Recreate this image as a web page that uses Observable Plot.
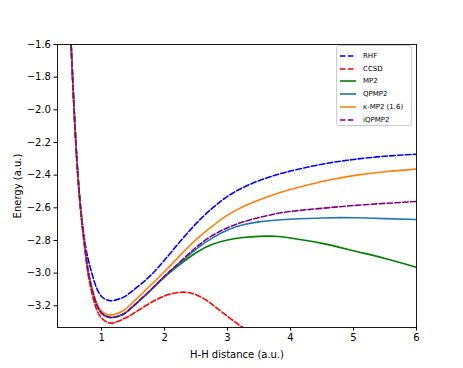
<!DOCTYPE html>
<html><head><meta charset="utf-8">
<script src="https://cdn.jsdelivr.net/npm/d3@7"></script>
<script src="https://cdn.jsdelivr.net/npm/@observablehq/plot@0.6"></script>
<style>
body{margin:0;background:#fff}
#wrap{position:relative;width:463px;height:368px;font-family:"DejaVu Sans",sans-serif}
#legend{position:absolute;left:336px;top:45px;width:76px;height:81px;box-sizing:border-box;border:1px solid #cccccc;border-radius:3px;background:rgba(255,255,255,0.85);font-size:7px;color:#000}
.row{position:absolute;left:0;height:10px;width:76px}
.row svg{position:absolute;left:3px;top:0}
.row span{position:absolute;left:26px;top:0;line-height:10px;white-space:nowrap}
</style>
</head><body><div id="wrap"></div>
<script>
// H-H distance grid (a.u.)
const xs = [0.5,0.55,0.6,0.65,0.7,0.75,0.8,0.9,1.0,1.1,1.2,1.35,1.5,1.75,2.0,2.25,2.5,2.75,3.0,3.25,3.5,3.75,4.0,4.5,5.0,5.5,6.0];
// energies (a.u.)
const rhf   = [-1.46,-1.89,-2.26,-2.53,-2.71,-2.845,-2.935,-3.07,-3.143,-3.166,-3.167,-3.147,-3.106,-3.025,-2.92,-2.805,-2.697,-2.605,-2.53,-2.475,-2.434,-2.401,-2.375,-2.333,-2.304,-2.284,-2.272];
const ccsd  = [-1.46,-1.89,-2.27,-2.545,-2.745,-2.905,-3.04,-3.20,-3.275,-3.303,-3.303,-3.28,-3.248,-3.188,-3.14,-3.117,-3.132,-3.19,-3.265,-3.335,-3.40,null,null,null,null,null,null];
const mp2   = [-1.46,-1.89,-2.26,-2.53,-2.725,-2.885,-3.015,-3.168,-3.245,-3.268,-3.27,-3.25,-3.204,-3.116,-3.025,-2.945,-2.875,-2.825,-2.797,-2.782,-2.775,-2.774,-2.785,-2.818,-2.863,-2.91,-2.964];
const qpmp2 = [-1.46,-1.89,-2.26,-2.53,-2.725,-2.885,-3.015,-3.168,-3.245,-3.268,-3.27,-3.25,-3.203,-3.115,-3.021,-2.937,-2.853,-2.787,-2.736,-2.704,-2.686,-2.676,-2.670,-2.662,-2.661,-2.666,-2.672];
const kmp2  = [-1.46,-1.89,-2.26,-2.53,-2.725,-2.885,-3.012,-3.165,-3.232,-3.254,-3.253,-3.229,-3.178,-3.085,-2.99,-2.89,-2.795,-2.715,-2.645,-2.592,-2.552,-2.517,-2.488,-2.439,-2.403,-2.379,-2.363];
const iqpmp2= [-1.46,-1.89,-2.26,-2.53,-2.725,-2.885,-3.015,-3.168,-3.245,-3.268,-3.27,-3.25,-3.203,-3.114,-3.018,-2.93,-2.842,-2.772,-2.722,-2.686,-2.659,-2.638,-2.622,-2.603,-2.586,-2.573,-2.561];
const xTicks = [1,2,3,4,5,6];
const yTicks = [-3.2,-3.0,-2.8,-2.6,-2.4,-2.2,-2.0,-1.8,-1.6];

const series = [
  {name:"RHF", html:"RHF", y:rhf, color:"#0000ff", dash:"5.5,2.4"},
  {name:"CCSD", html:"CCSD", y:ccsd, color:"#ff0000", dash:"5.5,2.4"},
  {name:"MP2", html:"MP2", y:mp2, color:"#008000", dash:null},
  {name:"QPMP2", html:"QPMP2", y:qpmp2, color:"#1f77b4", dash:null},
  {name:"k-MP2", html:"<i>κ</i>-MP2 (1.6)", y:kmp2, color:"#ff7f0e", dash:null},
  {name:"iQPMP2", html:"iQPMP2", y:iqpmp2, color:"#800080", dash:"5.5,2.4"}
];

const lines = series.map(s => {
  const data = xs.map((x,i) => ({x, y: s.y[i]})).filter(d => d.y !== null);
  return Plot.line(data, {x:"x", y:"y", stroke:s.color, strokeWidth:1.6, strokeDasharray:s.dash || undefined, curve:"natural", clip:true});
});

const chart = Plot.plot({
  width:463, height:368,
  marginLeft:57, marginRight:47, marginTop:44, marginBottom:41,
  style:{fontFamily:"DejaVu Sans", fontSize:"10px", color:"black", background:"white"},
  x:{domain:[0.3,6]},
  y:{domain:[-3.333,-1.6]},
  marks:[
    ...lines,
    Plot.frame({stroke:"black", strokeWidth:0.9}),
    Plot.axisX({ticks:xTicks, tickFormat:d=>String(d), tickSize:3.5, tickPadding:3, label:"H-H distance (a.u.)", labelAnchor:"center", labelOffset:30, labelArrow:"none"}),
    Plot.axisY({ticks:yTicks, tickFormat:d3.format(".1f"), tickSize:3.5, tickPadding:3, label:"Energy (a.u.)", labelAnchor:"center", labelOffset:44, labelArrow:"none"})
  ]
});
const wrap = document.getElementById("wrap");
wrap.appendChild(chart);

// legend
const leg = document.createElement("div");
leg.id = "legend";
series.forEach((s,i) => {
  const r = document.createElement("div");
  r.className = "row";
  r.style.top = (5 + i*12.7) + "px";
  r.innerHTML = `<svg width="16" height="10"><line x1="0" y1="5" x2="16" y2="5" stroke="${s.color}" stroke-width="1.6" ${s.dash ? `stroke-dasharray="${s.dash}"` : ""}/></svg><span>${s.html}</span>`;
  leg.appendChild(r);
});
wrap.appendChild(leg);
</script>
</body></html>
